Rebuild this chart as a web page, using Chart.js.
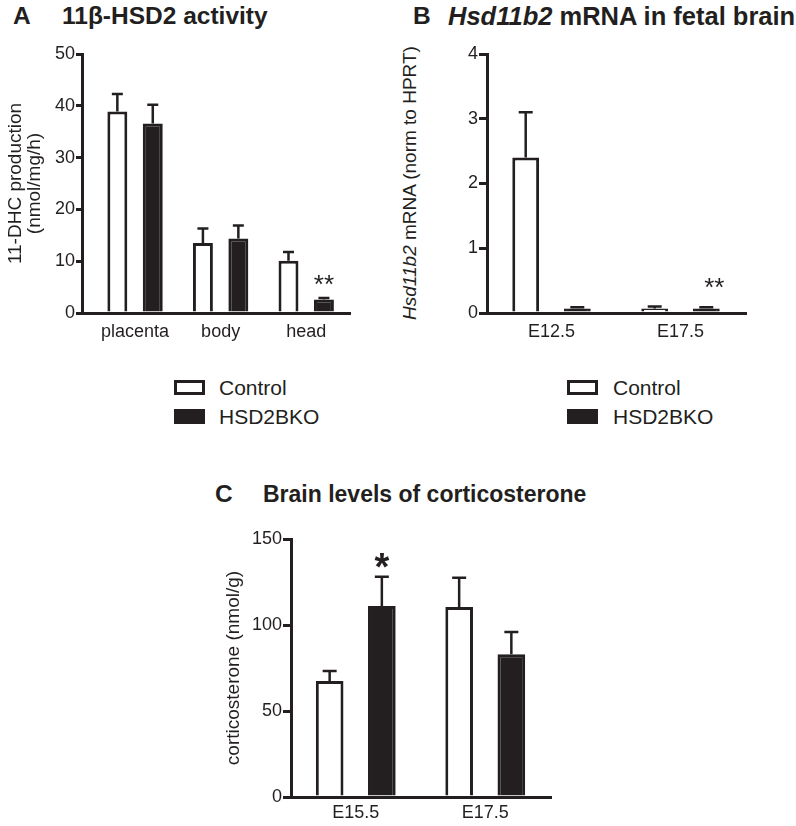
<!DOCTYPE html>
<html><head><meta charset="utf-8">
<script src="https://cdn.jsdelivr.net/npm/chart.js@4.4.0/dist/chart.umd.min.js"></script>
<style>
body{margin:0;background:#fff;width:796px;height:826px;position:relative;overflow:hidden;font-family:"Liberation Sans",Arial,sans-serif;color:#231f20}
.abs{position:absolute;white-space:nowrap}
.ttl{font-size:24.5px;font-weight:bold;line-height:24.5px}
.leg{font-size:21px;line-height:21px}
.box{position:absolute;width:31px;height:15px;box-sizing:border-box;border:3px solid #231f20;background:#fff}
.box.ko{background:#231f20}
canvas{position:absolute}
.ytitle{position:absolute;white-space:nowrap;font-size:19px;line-height:19px;transform:translate(-50%,-50%) rotate(-90deg)}
</style></head><body>
<div class="abs ttl" style="left:13px;top:4px">A</div>
<div class="abs ttl" style="left:62px;top:4px">11β-HSD2 activity</div>
<div class="abs ttl" style="left:413px;top:4px">B</div>
<div class="abs ttl" style="left:448px;top:3.5px;font-size:25.5px;line-height:25.5px"><i>Hsd11b2</i> mRNA in fetal brain</div>
<div class="abs ttl" style="left:215px;top:482px">C</div>
<div class="abs ttl" style="left:263px;top:483px;font-size:23px;line-height:23px">Brain levels of corticosterone</div>

<div class="ytitle" style="left:409px;top:183px"><i>Hsd11b2</i> mRNA (norm to HPRT)</div>

<div class="box" style="left:174px;top:380px"></div>
<div class="abs leg" style="left:219px;top:377px">Control</div>
<div class="box ko" style="left:174px;top:409px"></div>
<div class="abs leg" style="left:219px;top:406px">HSD2BKO</div>

<div class="box" style="left:567px;top:380px"></div>
<div class="abs leg" style="left:613px;top:377px">Control</div>
<div class="box ko" style="left:567px;top:409px"></div>
<div class="abs leg" style="left:613px;top:406px">HSD2BKO</div>

<canvas id="ca" width="400" height="350" style="left:0;top:0"></canvas>
<canvas id="cb" width="396" height="350" style="left:400px;top:0"></canvas>
<canvas id="cc" width="796" height="346" style="left:0;top:480px"></canvas>

<script>
// ---- Panel A: 11β-HSD2 activity ----
const catA = ['placenta', 'body', 'head'];
const ctrlA = [38.9, 13.5, 10.1];
const ctrlAerr = [3.4, 2.8, 1.7];
const koA = [36.6, 14.4, 2.6];
const koAerr = [3.6, 2.5, 0.3];
const sigA = ['', '', '**'];
const ticksA = [0, 10, 20, 30, 40, 50];

// ---- Panel B: Hsd11b2 mRNA in fetal brain ----
const catB = ['E12.5', 'E17.5'];
const ctrlB = [2.40, 0.07];
const ctrlBerr = [0.70, 0.03];
const koB = [0.07, 0.07];
const koBerr = [0.02, 0.02];
const sigB = ['', '**'];
const ticksB = [0, 1, 2, 3, 4];

// ---- Panel C: Brain levels of corticosterone ----
const catC = ['E15.5', 'E17.5'];
const ctrlC = [67.5, 110.5];
const ctrlCerr = [5.8, 17];
const koC = [111, 83];
const koCerr = [17, 13];
const sigC = ['*', ''];
const ticksC = [0, 50, 100, 150];

const INK = '#231f20';
const FONT = '"Liberation Sans", Arial, sans-serif';

const errorBars = {
  id: 'errorBars',
  afterDatasetsDraw(chart, args, opts) {
    const ctx = chart.ctx, ys = chart.scales.y;
    chart.data.datasets.forEach((ds, i) => {
      const meta = chart.getDatasetMeta(i);
      meta.data.forEach((bar, j) => {
        const d = ds.data[j];
        const val = (typeof d === 'object') ? d.y : d;
        const e = ds.errors[j];
        const base = ys.getPixelForValue(val);
        const top = ys.getPixelForValue(val + e);
        ctx.save();
        ctx.strokeStyle = INK;
        ctx.lineWidth = opts.lw;
        ctx.beginPath();
        ctx.moveTo(bar.x, base); ctx.lineTo(bar.x, top);
        ctx.moveTo(bar.x - opts.cap / 2, top); ctx.lineTo(bar.x + opts.cap / 2, top);
        ctx.stroke();
        if (ds.sig && ds.sig[j]) {
          ctx.fillStyle = INK;
          ctx.font = opts.sigFont;
          ctx.textAlign = 'center';
          ctx.textBaseline = 'alphabetic';
          ctx.fillText(ds.sig[j], bar.x + (opts.sigDx || 0), top - opts.sigGap);
        }
        ctx.restore();
      });
    });
  }
};

function yAxis(min, max, tickVals, width, tl, title) {
  return {
    type: 'linear', min, max,
    afterBuildTicks: s => { s.ticks = tickVals.map(v => ({ value: v })); },
    ticks: { color: INK, font: { family: FONT, size: 18 }, padding: 1 },
    grid: { display: true, drawOnChartArea: false, drawTicks: true, tickLength: tl, tickWidth: 3, tickColor: INK, lineWidth: 3, color: INK },
    border: { display: true, width: 3, color: INK },
    title: title ? { display: true, text: title, color: INK, font: { family: FONT, size: 19, lineHeight: 1.0 }, padding: 0 } : { display: false },
    afterFit: s => { s.width = width; }
  };
}

function barDatasets(c, ce, k, ke, sig, toPt) {
  return [
    { label: 'Control', data: c.map(toPt), errors: ce, backgroundColor: '#ffffff', borderColor: INK, borderWidth: 3 },
    { label: 'HSD2BKO', data: k.map(toPt), errors: ke, sig: sig, backgroundColor: INK, borderColor: INK, borderWidth: 3 }
  ];
}

const common = {
  responsive: false, animation: false, devicePixelRatio: 1,
  plugins: { legend: { display: false }, tooltip: { enabled: false } }
};

// Chart A (linear index axis so the category groups can sit off-centre like the original)
new Chart(document.getElementById('ca'), {
  type: 'bar',
  data: { datasets: barDatasets(ctrlA, ctrlAerr, koA, koAerr, sigA, (v, i) => ({ x: i, y: v })) },
  options: Object.assign({}, common, {
    layout: { padding: { left: 6.5, top: 54, right: 51, bottom: 0 } },
    datasets: { bar: { categoryPercentage: 0.828, barPercentage: 0.563 } },
    scales: {
      x: {
        type: 'linear', min: -0.62, max: 2.5, offset: false,
        afterBuildTicks: s => { s.ticks = catA.map((c, i) => ({ value: i })); },
        ticks: { callback: v => catA[v], color: INK, font: { family: FONT, size: 18 }, padding: 8, maxRotation: 0 },
        grid: { display: false, drawTicks: false, offset: false, lineWidth: 3 },
        border: { display: true, width: 3, color: INK },
        afterFit: s => { s.height = 37; }
      },
      y: yAxis(0, 50, ticksA, 75.5, 6, ['11-DHC production', '(nmol/mg/h)'])
    },
    plugins: Object.assign({}, common.plugins, { errorBars: { lw: 2.5, cap: 11, sigFont: '26px ' + FONT, sigGap: 5 } })
  }),
  plugins: [errorBars]
});

// Chart B
new Chart(document.getElementById('cb'), {
  type: 'bar',
  data: { labels: catB, datasets: barDatasets(ctrlB, ctrlBerr, koB, koBerr, sigB, v => v) },
  options: Object.assign({}, common, {
    layout: { padding: { left: 0, top: 54, right: 51, bottom: 0 } },
    datasets: { bar: { categoryPercentage: 0.8, barPercentage: 0.52 } },
    scales: {
      x: {
        ticks: { color: INK, font: { family: FONT, size: 18 }, padding: 8 },
        grid: { display: false, drawTicks: false, lineWidth: 3 },
        border: { display: true, width: 3, color: INK },
        afterFit: s => { s.height = 37; }
      },
      y: yAxis(0, 4, ticksB, 87, 8, null)
    },
    plugins: Object.assign({}, common.plugins, { errorBars: { lw: 2.5, cap: 14, sigFont: '26px ' + FONT, sigGap: 11, sigDx: 8 } })
  }),
  plugins: [errorBars]
});

// Chart C
new Chart(document.getElementById('cc'), {
  type: 'bar',
  data: { labels: catC, datasets: barDatasets(ctrlC, ctrlCerr, koC, koCerr, sigC, v => v) },
  options: Object.assign({}, common, {
    layout: { padding: { left: 224.5, top: 59, right: 246, bottom: 0 } },
    datasets: { bar: { categoryPercentage: 0.806, barPercentage: 0.53 } },
    scales: {
      x: {
        ticks: { color: INK, font: { family: FONT, size: 18 }, padding: 5 },
        grid: { display: false, drawTicks: false, lineWidth: 3 },
        border: { display: true, width: 3, color: INK },
        afterFit: s => { s.height = 29; }
      },
      y: yAxis(0, 150, ticksC, 66.5, 8, 'corticosterone (nmol/g)')
    },
    plugins: Object.assign({}, common.plugins, { errorBars: { lw: 2.5, cap: 14, sigFont: 'bold 38px ' + FONT, sigGap: -3 } })
  }),
  plugins: [errorBars]
});
</script>
</body></html>
